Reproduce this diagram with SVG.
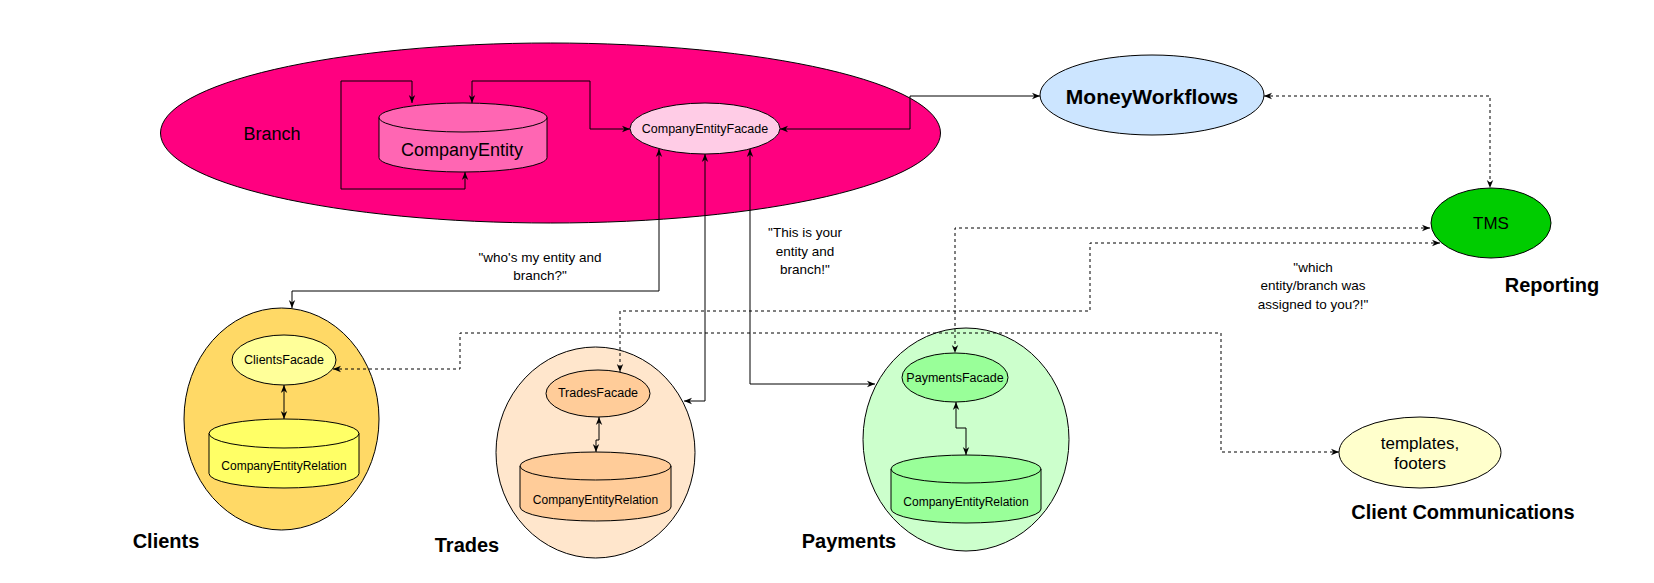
<svg xmlns="http://www.w3.org/2000/svg" width="1654" height="583" viewBox="0 0 1654 583">
<style>
  .s { stroke: #000; stroke-width: 1; }
  .t { font-family: "Liberation Sans", Arial, sans-serif; fill: #000; text-anchor: middle; dominant-baseline: central; }
  .b { font-weight: bold; font-size: 20px; }
  .sm { font-size: 12.5px; }
  .q { font-size: 13.5px; }
  .c { fill: none; stroke: #000; stroke-width: 1; marker-start: url(#arr); marker-end: url(#arr); }
  .d { stroke-dasharray: 3 3; }
</style>
<defs>
  <marker id="arr" viewBox="0 0 10 10" refX="10" refY="5" markerWidth="8" markerHeight="8" markerUnits="userSpaceOnUse" orient="auto-start-reverse">
    <path d="M0,1 L10,5 L0,9 L3,5 Z" fill="#000"/>
  </marker>
</defs>
<rect width="1654" height="583" fill="#fff"/>

<g id="branch">
  <ellipse cx="550.5" cy="133" rx="390" ry="90" fill="#FF0080" class="s"/>
  <text class="t" x="272" y="134" font-size="18">Branch</text>
</g>
<g id="company-entity">
  <path d="M379,117.5 A84,14.5 0 0 1 547,117.5 L547,157.5 A84,14.5 0 0 1 379,157.5 Z" fill="#FF66B3" class="s"/>
  <path d="M379,117.5 A84,14.5 0 0 0 547,117.5" fill="none" class="s"/>
  <text class="t" x="462" y="150" font-size="18">CompanyEntity</text>
</g>
<g id="company-entity-facade">
  <ellipse cx="705" cy="128.5" rx="75" ry="25.5" fill="#FFCCE6" class="s"/>
  <text class="t sm" x="705" y="129">CompanyEntityFacade</text>
</g>
<g id="money-workflows">
  <ellipse cx="1152" cy="95" rx="112" ry="40" fill="#CCE5FF" class="s"/>
  <text class="t" x="1152" y="96" font-size="21" font-weight="bold">MoneyWorkflows</text>
</g>
<g id="tms">
  <ellipse cx="1491" cy="223" rx="60" ry="35" fill="#00CC00" class="s"/>
  <text class="t" x="1491" y="223" font-size="17">TMS</text>
  <text class="t b" x="1552" y="285" font-size="21">Reporting</text>
</g>

<g id="clients">
  <ellipse cx="281.5" cy="419" rx="97.5" ry="111" fill="#FFD966" class="s"/>
  <text class="t b" x="166" y="541">Clients</text>
</g>
<g id="clients-facade">
  <ellipse cx="284" cy="360" rx="52" ry="25" fill="#FFFF99" class="s"/>
  <text class="t sm" x="284" y="360">ClientsFacade</text>
</g>
<g id="clients-relation">
  <path d="M209,433.5 A75,14.5 0 0 1 359,433.5 L359,473.5 A75,14.5 0 0 1 209,473.5 Z" fill="#FFFF66" class="s"/>
  <path d="M209,433.5 A75,14.5 0 0 0 359,433.5" fill="none" class="s"/>
  <text class="t" x="284" y="466" font-size="12">CompanyEntityRelation</text>
</g>

<g id="trades">
  <ellipse cx="595.5" cy="452.5" rx="99.5" ry="105.5" fill="#FFE6CC" class="s"/>
  <text class="t b" x="467" y="545">Trades</text>
</g>
<g id="trades-facade">
  <ellipse cx="598" cy="393.5" rx="52" ry="23.5" fill="#FFCC99" class="s"/>
  <text class="t sm" x="598" y="393">TradesFacade</text>
</g>
<g id="trades-relation">
  <path d="M520,466 A75.5,14 0 0 1 671,466 L671,507 A75.5,14 0 0 1 520,507 Z" fill="#FFCC99" class="s"/>
  <path d="M520,466 A75.5,14 0 0 0 671,466" fill="none" class="s"/>
  <text class="t" x="595.5" y="500" font-size="12">CompanyEntityRelation</text>
</g>

<g id="payments">
  <ellipse cx="966" cy="439.5" rx="103" ry="111.5" fill="#CCFFCC" class="s"/>
  <text class="t b" x="849" y="541">Payments</text>
</g>
<g id="payments-facade">
  <ellipse cx="955" cy="377.5" rx="53" ry="24.5" fill="#99FF99" class="s"/>
  <text class="t sm" x="955" y="378">PaymentsFacade</text>
</g>
<g id="payments-relation">
  <path d="M891,469 A75,14 0 0 1 1041,469 L1041,509 A75,14 0 0 1 891,509 Z" fill="#99FF99" class="s"/>
  <path d="M891,469 A75,14 0 0 0 1041,469" fill="none" class="s"/>
  <text class="t" x="966" y="502" font-size="12">CompanyEntityRelation</text>
</g>

<g id="templates">
  <ellipse cx="1420" cy="452.5" rx="81" ry="35.5" fill="#FFFFCC" class="s"/>
  <text class="t" x="1420" y="443" font-size="17">templates,</text>
  <text class="t" x="1420" y="463" font-size="17">footers</text>
  <text class="t b" x="1463" y="512" font-size="21">Client Communications</text>
</g>

<g id="connectors">
  <path class="c" d="M412,103 L412,81 L341,81 L341,189 L465,189 L465,172"/>
  <path class="c" d="M472,103 L472,81 L590,81 L590,129 L630,129"/>
  <path class="c" d="M780,129 L910,129 L910,96 L1040,96"/>
  <path class="c d" d="M1264,96 L1490,96 L1490,188"/>
  <path class="c" d="M659,149 L659,291 L292,291 L292,308"/>
  <path class="c" d="M705,154 L705,401 L684,401"/>
  <path class="c" d="M750,149 L750,384 L875,384"/>
  <path class="c d" d="M1430,228 L955,228 L955,353"/>
  <path class="c d" d="M1440,243 L1090,243 L1090,311 L620,311 L620,372"/>
  <path class="c d" d="M333,369 L460,369 L460,333 L1221,333 L1221,452 L1339,452"/>
  <path class="c" d="M284,385 L284,419"/>
  <path class="c" d="M599,417 L599,440 L596,440 L596,452"/>
  <path class="c" d="M956,402 L956,428 L966,428 L966,455"/>
</g>

<g id="labels">
  <text class="t q" x="540" y="257">"who's my entity and</text>
  <text class="t q" x="540" y="275">branch?"</text>
  <text class="t q" x="805" y="232">"This is your</text>
  <text class="t q" x="805" y="251">entity and</text>
  <text class="t q" x="805" y="269">branch!"</text>
  <text class="t q" x="1313" y="267">"which</text>
  <text class="t q" x="1313" y="285.5">entity/branch was</text>
  <text class="t q" x="1313" y="304">assigned to you?!"</text>
</g>
</svg>
